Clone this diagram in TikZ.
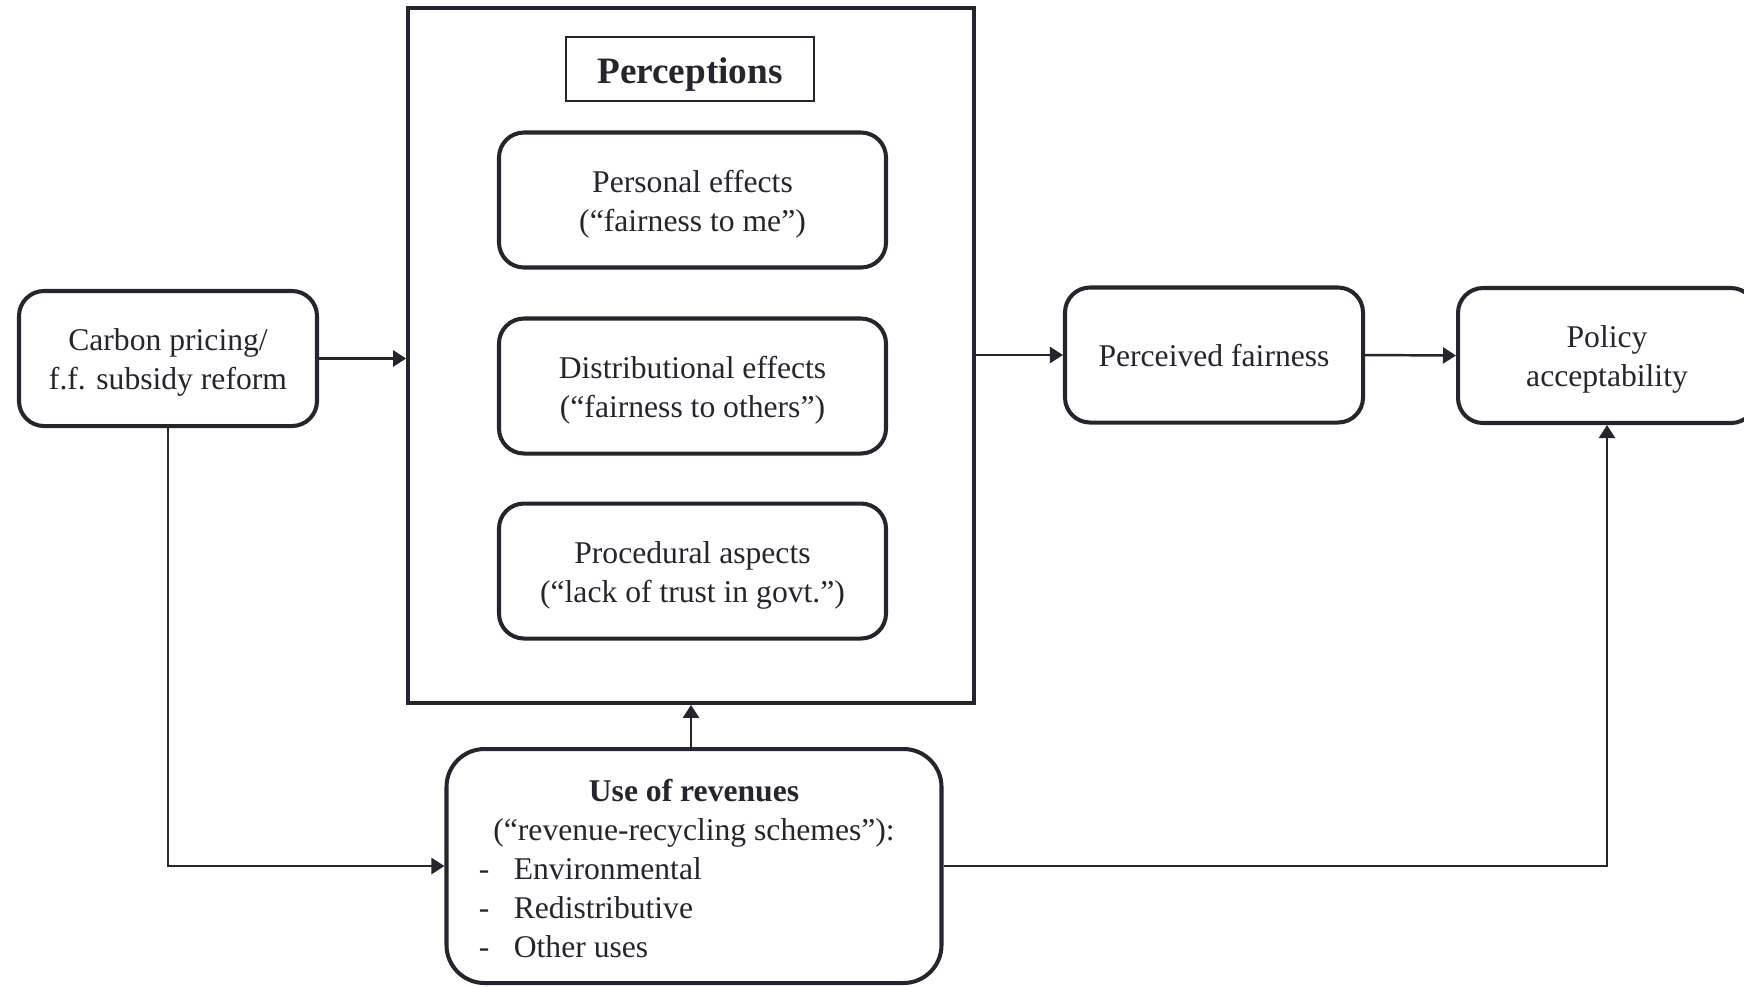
\documentclass[tikz,border=0pt]{standalone}
\usepackage{fontspec}
\setmainfont{Liberation Serif}
\usetikzlibrary{arrows.meta,positioning}
\definecolor{fairink}{HTML}{25252D}
\tikzset{
  bx/.style={align=center, font=\fontsize{9}{11.1}\selectfont, text=fairink, inner sep=2pt,
    text height=8.8pt, text depth=2pt},
  two/.style={text height=19.9pt},
  rbox/.style={bx, draw=fairink, line width=1.15pt, rounded corners=2.5mm, minimum width=29.8mm, minimum height=13.5mm},
  effect/.style={rbox, two, minimum width=38.7mm},
  frame/.style={draw=fairink, line width=1.05pt, minimum width=56.6mm, minimum height=69.5mm, inner sep=0pt},
  ttl/.style={bx, draw=fairink, line width=0.5pt, font=\fontsize{10.6}{12}\selectfont\bfseries, text height=10.2pt,
    minimum width=24.8mm, minimum height=6.4mm},
  revbox/.style={rbox, rounded corners=3.8mm, minimum width=49.5mm, minimum height=23.4mm,
    text height=, text depth=},
  arr/.style={-{Triangle[length=1.3mm, width=1.6mm]}, line width=0.7pt, color=fairink},
}
\newcommand{\listdash}[1]{\hspace*{-1.45mm}\makebox[3.5mm][l]{-}#1}

\begin{document}
\begin{tikzpicture}
\useasboundingbox (0,0) rectangle (17.44,-9.86);
% perceptions block
\node[frame] (perc) at (6.91,-3.555) {};
\node[ttl] (ptitle) at (6.90,-0.69) {Perceptions};
\node[effect] (pers) at (6.925,-2.00) {Personal effects\\(“fairness to me”)};
\node[effect] (dist) at (6.925,-3.86) {Distributional effects\\(“fairness to others”)};
\node[effect] (proc) at (6.925,-5.71) {Procedural aspects\\(“lack of trust in govt.”)};
% outer boxes
\node[rbox, two] (carbon) at (1.68,-3.585) {Carbon pricing/\\f.f. subsidy reform};
\node[rbox] (fair) at (12.14,-3.55) {Perceived fairness};
\node[rbox, two] (policy) at (16.07,-3.555) {Policy\\acceptability};
\node[revbox] (rev) at (6.94,-8.66) {\begin{tabular}{@{}l@{}}
  \multicolumn{1}{@{}c@{}}{\rule{0pt}{10.9pt}\textbf{Use of revenues}}\\
  (“revenue-recycling schemes”):\\
  \listdash{Environmental}\\
  \listdash{Redistributive}\\
  \listdash{Other uses}
\end{tabular}};
% connectors
\draw[arr] (carbon.east) -- (carbon.east -| perc.west);
\draw[arr] (perc.east |- fair.west) -- (fair.west);
\draw[arr] (fair.east) -- (policy.west);
\draw[arr] (rev.north -| perc.south) -- (perc.south);
\draw[arr] (carbon.south) |- (rev.west);
\draw[arr] (rev.east) -| (policy.south);
\end{tikzpicture}
\end{document}
